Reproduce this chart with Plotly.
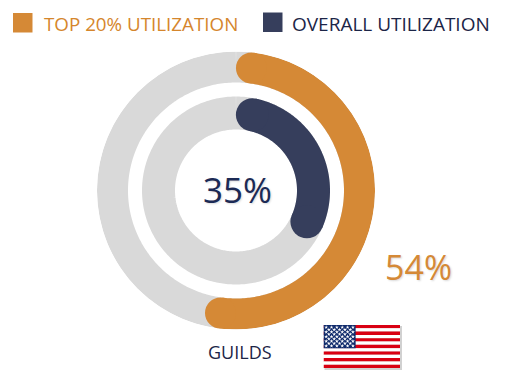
import numpy as np
import plotly.graph_objects as go

series_names = ["TOP 20% UTILIZATION", "OVERALL UTILIZATION"]
series_values = [54, 35]
series_colors = ["#D58936", "#363E5C"]
category = "GUILDS"
TRACK = "#D9D9D9"
W, H = 512, 384

CX, CY, R = 236, 190.5, 139
ring_r = [123.5, 77.5]
ring_w = [31, 33]

def px(x): return x / W
def py(y): return 1 - y / H

fig = go.Figure()
full = np.linspace(0, 360, 361)
for r, w, val, col in zip(ring_r, ring_w, series_values, series_colors):
    fig.add_trace(go.Scatterpolar(r=[r] * len(full), theta=full, mode="lines",
                                  line=dict(color=TRACK, width=w), hoverinfo="skip", showlegend=False))
    cap = np.degrees((w / 2) / r)
    theta = np.linspace(cap, val * 3.6 - cap, 200)
    fig.add_trace(go.Scatterpolar(r=[r] * len(theta), theta=theta, mode="lines",
                                  line=dict(color=col, width=w), showlegend=False))
    fig.add_trace(go.Scatterpolar(r=[r, r], theta=[theta[0], theta[-1]], mode="markers",
                                  marker=dict(color=col, size=w, line=dict(width=0)), showlegend=False))

# Flag drawn on its own small axes
stripe_red = "#D90012"
fx0, fx1, fy0, fy1 = 323.5, 400, 325, 368
star_x, star_y = [], []
for row in range(9):
    n = 6 if row % 2 == 0 else 5
    for c in range(n):
        star_x.append((c + (0.5 if row % 2 == 0 else 1.0)) / 6 * 0.42)
        star_y.append(1 - (row + 1) / 10 * 7 / 13)
fig.add_trace(go.Scatter(x=star_x, y=star_y, mode="markers", xaxis="x", yaxis="y",
                         marker=dict(symbol="star", size=3, color="white", line=dict(width=0)),
                         hoverinfo="skip", showlegend=False))

shapes = []
# flag shadow
shapes.append(dict(type="rect", xref="paper", yref="paper", layer="below",
                   x0=px(fx0 + 1), x1=px(fx1 + 2), y0=py(fy0 + 1), y1=py(fy1 + 2),
                   fillcolor="rgba(0,0,0,0.18)", line=dict(width=0)))
for i in range(13):
    shapes.append(dict(type="rect", xref="x", yref="y", layer="below",
                       x0=0, x1=1, y0=1 - (i + 1) / 13, y1=1 - i / 13,
                       fillcolor=stripe_red if i % 2 == 0 else "white", line=dict(width=0)))
shapes.append(dict(type="rect", xref="x", yref="y", layer="below",
                   x0=0, x1=0.42, y0=1 - 7 / 13, y1=1,
                   fillcolor="#0F2A6B", line=dict(width=0)))
# legend squares
for (x0, y0, s), col in zip([(13, 13, 19.5), (263, 12.5, 19.5)], series_colors):
    shapes.append(dict(type="rect", xref="paper", yref="paper",
                       x0=px(x0), x1=px(x0 + s), y0=py(y0), y1=py(y0 + s),
                       fillcolor=col, line=dict(width=0)))

FONT = "Open Sans"
SH = "1px 1px 2px rgba(0,0,0,0.15)"
def note(x, y, text, size, color, anchor="center", shadow="none"):
    return dict(x=px(x), y=py(y), xref="paper", yref="paper", text=text, showarrow=False,
                xanchor=anchor, yanchor="middle",
                font=dict(family=FONT, size=size, color=color, shadow=shadow))

annotations = [
    note(42, 24, series_names[0], 18.8, "#D5862C", "left"),
    note(290, 24, series_names[1], 19, "#1C2547", "left"),
    note(237.5, 189, f"{series_values[1]}%", 35, "#1C2A55", shadow=SH),
    note(418, 267, f"{series_values[0]}%", 34, "#D58936", shadow=SH),
    note(240, 352, category, 18, "#1C2547"),
]

fig.update_layout(
    width=W, height=H, margin=dict(l=0, r=0, t=0, b=0),
    paper_bgcolor="white", plot_bgcolor="rgba(0,0,0,0)", showlegend=False,
    polar=dict(domain=dict(x=[px(CX - R), px(CX + R)], y=[py(CY + R), py(CY - R)]),
               bgcolor="rgba(0,0,0,0)",
               radialaxis=dict(visible=False, range=[0, R]),
               angularaxis=dict(visible=False, rotation=90, direction="clockwise")),
    xaxis=dict(domain=[px(fx0), px(fx1)], range=[0, 1], visible=False, fixedrange=True),
    yaxis=dict(domain=[py(fy1), py(fy0)], range=[0, 1], visible=False, fixedrange=True),
    shapes=shapes, annotations=annotations,
)
fig.write_html("out.html", config=dict(displayModeBar=False),
               post_script="document.body.style.margin='0';document.body.style.overflow='hidden';")
